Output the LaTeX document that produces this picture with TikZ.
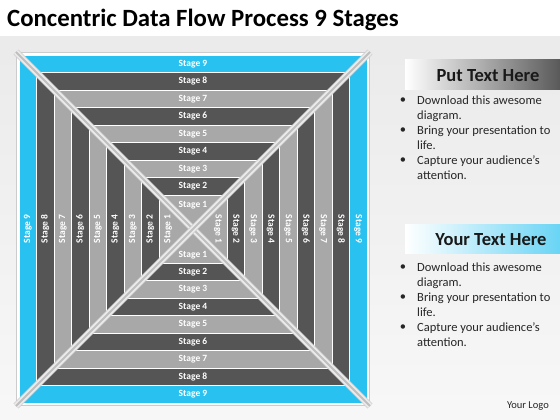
\documentclass[tikz,border=0pt]{standalone}
\usepackage{fontspec}
\setmainfont{Carlito}
\definecolor{stagecyan}{RGB}{41,194,240}
\definecolor{stagedark}{RGB}{85,85,85}
\definecolor{stagelight}{RGB}{168,168,168}
\tikzset{
  stagelabel/.style={text=white, font=\bfseries\fontsize{9.5}{10}\selectfont, inner sep=0pt},
  headtext/.style={font=\bfseries\fontsize{18.5}{20}\selectfont, text=black!90, inner sep=0pt},
  pointtext/.style={font=\fontsize{12.5}{15}\selectfont, text=black!85, align=left, anchor=north west, inner sep=0pt},
  pointdot/.style={font=\fontsize{12.5}{15}\selectfont, text=black!85, inner sep=0pt},
}
\begin{document}
\begin{tikzpicture}[x=1pt,y=-1pt]
            \useasboundingbox (0,0) rectangle (560,420);
            \fill[white] (0,0) rectangle (560,420);
            \shade[top color=black!8, bottom color=black!3] (0,37) rectangle (560,420);
            \node[anchor=west, font=\bfseries\fontsize{24.8}{28}\selectfont, inner sep=0pt] (title) at (7,20) {Concentric Data Flow Process 9 Stages};
            \begin{scope}[shift={(193,229)}]
                \foreach \k/\c in {9/stagecyan,8/stagedark,7/stagelight,6/stagedark,5/stagelight,4/stagedark,3/stagelight,2/stagedark,1/stagelight}{
                    \pgfmathsetmacro\r{34+(\k-1)*17.5}
                    \fill[\c, draw=white, line width=0.8] (-\r,-\r) rectangle (\r,\r);
                }
                \draw[white, line width=2] (-175,-175) rectangle (175,175);
                \draw[black!20, line width=0.5] (-176.5,-176.5) rectangle (176.5,176.5);
                \coordinate (nw) at (-177,-177);
                \coordinate (ne) at (177,-177);
                \coordinate (sw) at (-177,177);
                \coordinate (se) at (177,177);
                \foreach \a/\b in {nw/se,ne/sw}{
                    \draw[black!20, line width=7] (\a) -- (\b);
                    \draw[white!92!black, line width=5.5] (\a) -- (\b);
                    \draw[black!25, line width=1.8] (\a) -- (\b);
                }
                \foreach \k in {2,...,9}{
                    \pgfmathsetmacro\m{34+(\k-1.5)*17.5}
                    \node[stagelabel] (t\k) at (0,-\m) {Stage \k};
                    \node[stagelabel] (b\k) at (0,\m) {Stage \k};
                    \node[stagelabel, rotate=90] (l\k) at (-\m,0) {Stage \k};
                    \node[stagelabel, rotate=-90] (r\k) at (\m,0) {Stage \k};
                }
                \node[stagelabel] (t1) at (0,-24) {Stage 1};
                \node[stagelabel] (b1) at (0,26) {Stage 1};
                \node[stagelabel, rotate=90] (l1) at (-25,0) {Stage 1};
                \node[stagelabel, rotate=-90] (r1) at (25,0) {Stage 1};
            \end{scope}
            \shade[left color=white, right color=black!65] (405,60) rectangle (560,90);
            \node[headtext] (head1) at (488,76) {Put Text Here};
            \shade[left color=white, right color=stagecyan!70] (405,224) rectangle (560,253);
            \node[headtext] (head2) at (491,240) {Your Text Here};
            \foreach \y/\t [count=\i] in {101/{Download this awesome\\diagram.},131/{Bring your presentation to\\life.},161/{Capture your audience’s\\attention.}}{
                \node[pointdot] (dota\i) at (403,\y) {\textbullet};
                \node[pointtext] (texta\i) at (417,\y-5.5) {\t};
            }
            \foreach \y/\t [count=\i] in {268/{Download this awesome\\diagram.},298/{Bring your presentation to\\life.},328/{Capture your audience’s\\attention.}}{
                \node[pointdot] (dotb\i) at (403,\y) {\textbullet};
                \node[pointtext] (textb\i) at (417,\y-5.5) {\t};
            }
            \node[anchor=east, font=\fontsize{10.5}{12}\selectfont, text=black!85, inner sep=0pt] (logo) at (549,406) {Your Logo};
        \end{tikzpicture}
\end{document}
